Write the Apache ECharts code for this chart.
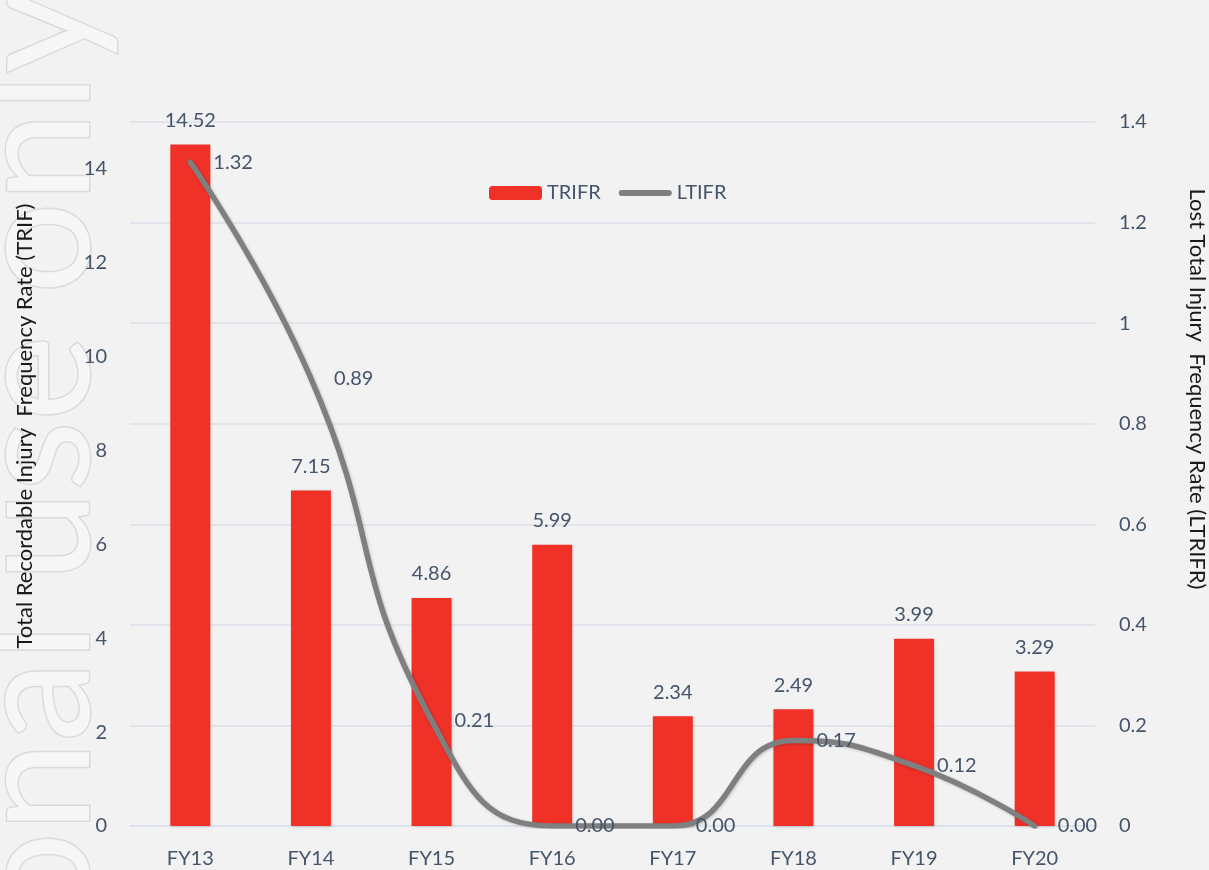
<!DOCTYPE html>
<html>
<head>
<meta charset="utf-8">
<script src="https://cdn.jsdelivr.net/npm/echarts@6/dist/echarts.min.js"></script>
<style>html,body{margin:0;padding:0;background:#f2f2f2;}#c{width:1209px;height:870px;}</style>
</head>
<body>
<div id="c"></div>
<script>
const categories = ['FY13','FY14','FY15','FY16','FY17','FY18','FY19','FY20'];
const trifr = [14.52, 7.15, 4.86, 5.99, 2.34, 2.49, 3.99, 3.29];
const ltifr = [1.32, 0.89, 0.21, 0.00, 0.00, 0.17, 0.12, 0.00];
const leftName = 'Total Recordable Injury  Frequency Rate (TRIF)';
const rightName = 'Lost Total Injury  Frequency Rate (LTRIFR)';
const watermark = 'For personal use only';

const FONT = 'Lato';
const TXT = '#44546a';
const GRID = '#dae1ea';
const LINE = '#7f7f7f';

const chart = echarts.init(document.getElementById('c'));
chart.setOption({
  backgroundColor: '#f2f2f2',
  animation: false,
  textStyle: { fontFamily: FONT },
  graphic: [
    {
      type: 'text', z: -10, silent: true,
      x: 37, y: -10, rotation: Math.PI / 2,
      style: {
        text: watermark, fontFamily: FONT, fontSize: 162,
        fill: '#f6f6f6', stroke: '#dadada', lineWidth: 3,
        align: 'right', verticalAlign: 'middle'
      }
    },
    {
      type: 'text', silent: true,
      x: 25, y: 426, rotation: Math.PI / 2,
      style: {
        text: leftName, fontFamily: FONT, fontSize: 22, fill: '#1a1a1a',
        align: 'center', verticalAlign: 'middle'
      }
    },
    {
      type: 'text', silent: true,
      x: 1197, y: 389, rotation: -Math.PI / 2,
      style: {
        text: rightName, fontFamily: FONT, fontSize: 22, fill: '#1a1a1a',
        align: 'center', verticalAlign: 'middle'
      }
    }
  ],
  legend: {
    left: 484, top: 178,
    itemWidth: 53, itemHeight: 14, itemGap: 18,
    textStyle: { color: TXT, fontSize: 20, fontFamily: FONT },
    data: [
      { name: 'TRIFR' },
      { name: 'LTIFR', icon: 'path://M3,0 H50 A3,3 0 0 1 50,6 H3 A3,3 0 0 1 3,0 Z', itemStyle: { color: LINE } }
    ]
  },
  grid: { left: 130, right: 114, top: 122, bottom: 44 },
  xAxis: {
    type: 'category',
    data: categories,
    axisLine: { lineStyle: { color: GRID, width: 1.5 } },
    axisTick: { show: false },
    axisLabel: { color: TXT, fontSize: 20, margin: 23, fontFamily: FONT }
  },
  yAxis: [
    {
      type: 'value', min: 0, max: 15, interval: 2,
      splitLine: { show: false },
      axisLine: { show: false }, axisTick: { show: false },
      axisLabel: { color: TXT, fontSize: 20, margin: 23, showMaxLabel: false, fontFamily: FONT }
    },
    {
      type: 'value', min: 0, max: 1.4, interval: 0.2, position: 'right',
      splitLine: { show: true, lineStyle: { color: GRID, width: 1.5 } },
      axisLine: { show: false }, axisTick: { show: false },
      axisLabel: { color: TXT, fontSize: 20, margin: 24, fontFamily: FONT }
    }
  ],
  series: [
    {
      name: 'TRIFR', type: 'bar', yAxisIndex: 0,
      data: trifr, barWidth: 40,
      itemStyle: { color: '#ef3128', shadowColor: 'rgba(0,0,0,0.18)', shadowBlur: 3, shadowOffsetX: 1, shadowOffsetY: 1 },
      label: {
        show: true, position: 'top', distance: 14,
        color: TXT, fontSize: 20, fontFamily: FONT,
        formatter: p => p.value.toFixed(2)
      }
    },
    {
      name: 'LTIFR', type: 'line', yAxisIndex: 1,
      data: ltifr, smooth: true,
      symbol: 'circle', symbolSize: 2, showAllSymbol: true,
      lineStyle: { color: LINE, width: 5.5, cap: 'round', shadowColor: 'rgba(0,0,0,0.2)', shadowBlur: 3, shadowOffsetX: 1, shadowOffsetY: 1 },
      itemStyle: { color: LINE },
      label: {
        show: true, position: 'right', distance: 22,
        color: TXT, fontSize: 20, fontFamily: FONT,
        formatter: p => p.value.toFixed(2)
      },
      labelLayout: { hideOverlap: false }
    }
  ]
});
</script>
</body>
</html>
